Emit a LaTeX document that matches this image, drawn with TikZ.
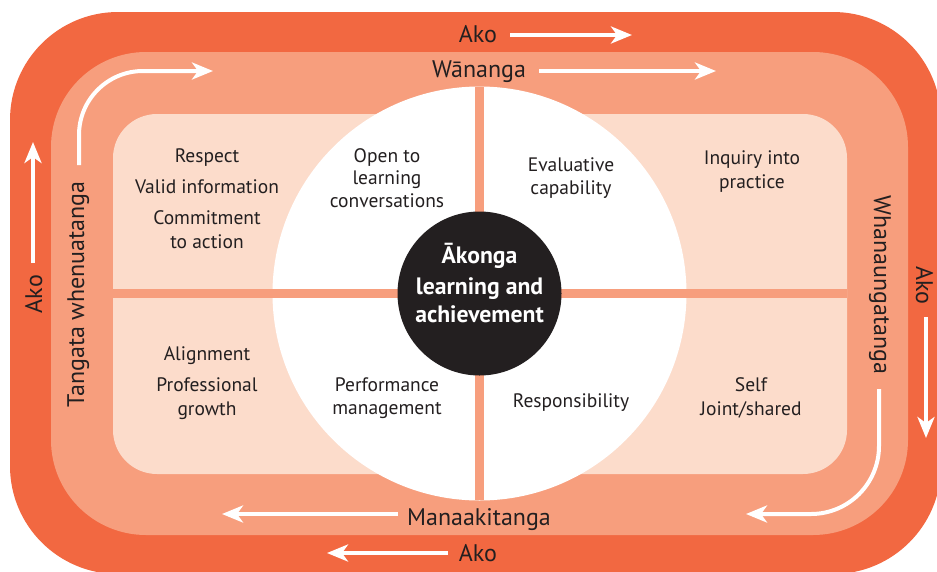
\documentclass[tikz,border=0pt]{standalone}
\usepackage{fontspec}
\setmainfont{PT Sans}
\usetikzlibrary{arrows.meta}
\definecolor{akoC}{RGB}{242,104,65}
\definecolor{midC}{RGB}{247,158,125}
\definecolor{lightC}{RGB}{252,220,203}
\definecolor{darkC}{RGB}{35,31,32}
\begin{document}
\begin{tikzpicture}[x=1pt,y=-1pt,
  paneltext/.style={text=darkC, font=\fontsize{19.5}{23}\selectfont, anchor=base, inner sep=0pt},
  bandtext/.style={text=darkC, font=\fontsize{24}{26}\selectfont, anchor=base, inner sep=0pt},
  centretext/.style={text=white, font=\bfseries\fontsize{23.7}{28}\selectfont, anchor=base, inner sep=0pt},
  flow/.style={draw=white, line width=4pt, -{Stealth[length=21pt,width=17pt,inset=6pt]}},
]
\useasboundingbox (0,0) rectangle (937,571);
% layers
\fill[akoC, rounded corners=108pt] (10,12) rectangle (941,574);
\fill[midC, rounded corners=95pt] (51,52) rectangle (908,535);
\fill[lightC, rounded corners=44pt] (113,114) rectangle (847,474);
\fill[white] (479.5,293.5) circle[radius=207pt];
\draw[midC, line width=9pt] (113,293.5) -- (847,293.5);
\draw[midC, line width=9pt] (479.5,87) -- (479.5,500);
\fill[darkC] (479.5,293.5) circle[radius=82pt];
% centre text
\node[centretext] (akonga) at (479.5,263) {Ākonga};
\node[centretext] (learnand) at (479.5,294) {learning and};
\node[centretext] (achieve) at (479.5,322) {achievement};
% panel texts
\node[paneltext] (respect) at (207,162) {Respect};
\node[paneltext] (valid) at (207,193) {Valid information};
\node[paneltext] (commit) at (207,224) {Commitment};
\node[paneltext] (toaction) at (207,248) {to action};
\node[paneltext] (open) at (387,162) {Open to};
\node[paneltext] (learning) at (387,184.5) {learning};
\node[paneltext] (convers) at (387,207) {conversations};
\node[paneltext] (evalu) at (571,171) {Evaluative};
\node[paneltext] (capab) at (571,194) {capability};
\node[paneltext] (inquiry) at (752,164) {Inquiry into};
\node[paneltext] (practice) at (752,188) {practice};
\node[paneltext] (align) at (207,360) {Alignment};
\node[paneltext] (prof) at (207,391) {Professional};
\node[paneltext] (growth) at (207,415) {growth};
\node[paneltext] (perf) at (387,391) {Performance};
\node[paneltext] (manage) at (387,414.5) {management};
\node[paneltext] (resp) at (571,407) {Responsibility};
\node[paneltext] (self) at (751,391) {Self};
\node[paneltext] (joint) at (751,415) {Joint/shared};
% band labels
\node[bandtext] (akoT) at (478,42) {Ako};
\node[bandtext] (wananga) at (479,77) {Wānanga};
\node[bandtext] (manaaki) at (479,525) {Manaakitanga};
\node[bandtext] (akoB) at (478,561) {Ako};
\node[bandtext, rotate=90] (tangata) at (84,294.5) {Tangata whenuatanga};
\node[bandtext, rotate=90] (akoL) at (42,294) {Ako};
\node[bandtext, rotate=-90] (whanau) at (874,285) {Whanaungatanga};
\node[bandtext, rotate=-90] (akoR) at (916,285.5) {Ako};
% arrow end points
\coordinate (aT1) at (510,35); \coordinate (aT2) at (632,35);
\coordinate (wA1) at (539,71); \coordinate (wA2) at (716,71);
\coordinate (tl1) at (79,165); \coordinate (tl2) at (79,71); \coordinate (tl3) at (213,71);
\coordinate (aL1) at (33,263); \coordinate (aL2) at (33,142);
\coordinate (aR1) at (926,317); \coordinate (aR2) at (926,438);
\coordinate (br1) at (879,389); \coordinate (br2) at (879,514); \coordinate (br3) at (746,514);
\coordinate (mA1) at (398,514); \coordinate (mA2) at (222,514);
\coordinate (aB1) at (448,553); \coordinate (aB2) at (327,553);
% arrows
\draw[flow] (aT1) -- (aT2);
\draw[flow] (wA1) -- (wA2);
\draw[flow, rounded corners=64pt] (tl1) -- (tl2) -- (tl3);
\draw[flow] (aL1) -- (aL2);
\draw[flow] (aR1) -- (aR2);
\draw[flow, rounded corners=68pt] (br1) -- (br2) -- (br3);
\draw[flow] (mA1) -- (mA2);
\draw[flow] (aB1) -- (aB2);
\end{tikzpicture}
\end{document}
